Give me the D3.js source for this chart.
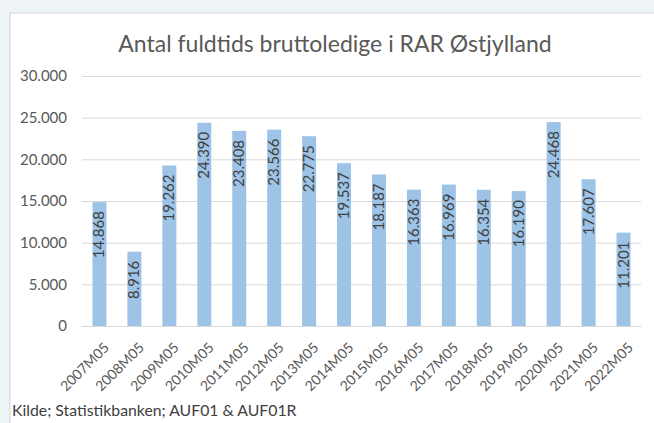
<!DOCTYPE html>
<html><head><meta charset="utf-8">
<script src="https://cdn.jsdelivr.net/npm/d3@7"></script>
<style>html,body{margin:0;padding:0;background:#eef3f5;}svg{display:block;}</style>
</head><body>
<svg id="c" width="654" height="423"></svg>
<script>
const categories = ["2007M05","2008M05","2009M05","2010M05","2011M05","2012M05","2013M05","2014M05","2015M05","2016M05","2017M05","2018M05","2019M05","2020M05","2021M05","2022M05"];
const values = [14868,8916,19262,24390,23408,23566,22775,19537,18187,16363,16969,16354,16190,24468,17607,11201];
const yTicks = [0,5000,10000,15000,20000,25000,30000];
const title = "Antal fuldtids bruttoledige i RAR Østjylland";
const source = "Kilde; Statistikbanken; AUF01 & AUF01R";

const svg = d3.select("#c");
const font = "Lato, 'Open Sans', sans-serif";
const fmt = v => d3.format(",")(v).replace(/,/g, ".");

svg.append("rect").attr("x",10).attr("y",13).attr("width",660).attr("height",420)
  .attr("fill","#fff").attr("stroke","#d0d4d6").attr("stroke-width",1);

const x = d3.scaleBand().domain(categories).range([82,641]).paddingInner(0.6).paddingOuter(0.3);
const y = d3.scaleLinear().domain([0,30000]).range([326,76]);

svg.append("text").attr("x",335).attr("y",52).attr("text-anchor","middle")
  .attr("font-family",font).attr("font-size",23).attr("fill","#595959").text(title);

const ga = svg.append("g").attr("transform","translate(82,0)")
  .call(d3.axisLeft(y).tickValues(yTicks).tickSize(-(641-82)).tickFormat(fmt));
ga.select(".domain").remove();
ga.selectAll(".tick line").attr("stroke","#d9d9d9").attr("stroke-width",1);
ga.selectAll(".tick text").attr("x",-15).attr("font-family",font).attr("font-size",15).attr("fill","#595959");

svg.append("g").selectAll("rect").data(values).join("rect")
  .attr("x",(d,i)=>x(categories[i])).attr("width",x.bandwidth())
  .attr("y",d=>y(d)).attr("height",d=>y(0)-y(d)).attr("fill","#9dc3e6");

svg.append("g").selectAll("text").data(values).join("text")
  .attr("transform",(d,i)=>`translate(${x(categories[i])+x.bandwidth()/2+5},${y(d)+9}) rotate(-90)`)
  .attr("text-anchor","end").attr("font-family",font).attr("font-size",15).attr("fill","#404040")
  .text(fmt);

const gx = svg.append("g").attr("transform",`translate(0,${y(0)})`)
  .call(d3.axisBottom(x).tickSize(0));
gx.select(".domain").attr("stroke","#d9d9d9");
gx.selectAll(".tick text").attr("font-family",font).attr("font-size",14).attr("fill","#595959")
  .attr("text-anchor","end").attr("transform","translate(7,19) rotate(-45)").attr("dy","0.35em").attr("y",0).attr("x",0);

svg.append("text").attr("x",12).attr("y",416).attr("font-family",font).attr("font-size",15.8)
  .attr("fill","#404040").text(source);
</script>
</body></html>
